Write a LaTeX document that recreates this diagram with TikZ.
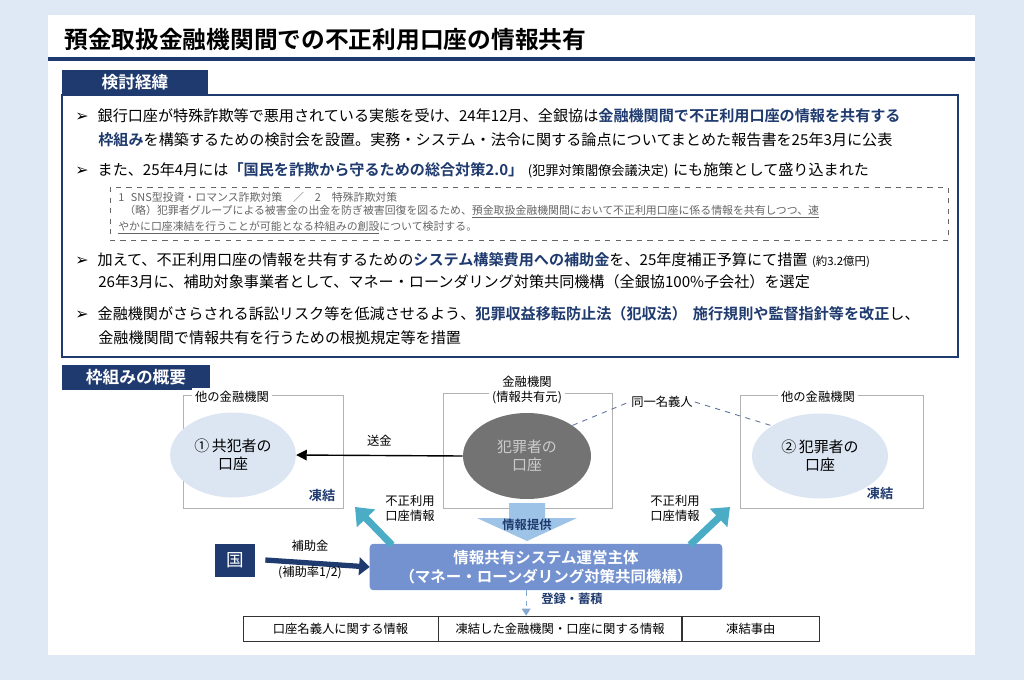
\documentclass[tikz,border=0pt]{standalone}
\usepackage{fontspec}
\setmainfont{Noto Sans CJK JP}[BoldFont={Noto Sans CJK JP Bold}]
\newfontfamily\symfont{DejaVu Sans}
\usetikzlibrary{arrows.meta,shapes.geometric}
\definecolor{navy}{HTML}{1F3A6E}
\definecolor{bgblue}{HTML}{DFE9F5}
\definecolor{acct}{HTML}{DCE6F2}
\definecolor{teal}{HTML}{4BACC6}
\definecolor{mainblue}{HTML}{7392CF}
\definecolor{downblue}{HTML}{9DC3E6}
\newcommand{\hl}[1]{\textcolor{navy}{\bfseries #1}}
\newcommand{\bul}{{\symfont\small ➢}}
\tikzset{
  tab/.style={fill=navy,text=white,font=\bfseries\fontsize{9.5pt}{11pt}\selectfont,inner sep=0pt},
  line/.style={anchor=west,inner sep=0pt,font=\fontsize{8.6pt}{10pt}\selectfont},
  note/.style={anchor=west,inner sep=0pt,text=black!60,font=\fontsize{6.2pt}{7pt}\selectfont},
  frame/.style={draw=black!30,line width=0.5pt},
  boxlabel/.style={fill=white,align=center,inner sep=2pt,font=\fontsize{7pt}{8.5pt}\selectfont},
  acc/.style={ellipse,fill=acct,align=center,font=\fontsize{8.5pt}{10pt}\selectfont},
  lbl/.style={align=center,font=\fontsize{7pt}{8.5pt}\selectfont,inner sep=1pt},
  frz/.style={text=navy,font=\bfseries\fontsize{7.5pt}{9pt}\selectfont,inner sep=0pt},
  cell/.style={draw=black!80,minimum height=0.5cm,inner sep=0pt,font=\fontsize{7pt}{8pt}\selectfont},
}
\begin{document}
\begin{tikzpicture}[x=0.02cm,y=-0.02cm]
  \fill[bgblue] (0,0) rectangle (1024,680);
  \fill[white] (48,15) rectangle (975,655);
  % title
  \node[anchor=west,inner sep=0pt,font=\bfseries\fontsize{13.5pt}{15pt}\selectfont] (title) at (64,40) {預金取扱金融機関間での不正利用口座の情報共有};
  \draw[navy,line width=2.2pt] (48,59) -- (975,59);
  % background section
  \node[tab,minimum width=2.92cm,minimum height=0.5cm] (tab1) at (135,82.5) {検討経緯};
  \draw[navy,line width=1pt] (62,95) rectangle (958,357);
  \node[line] (b1) at (75,116) {\bul\hspace{0.6em}銀行口座が特殊詐欺等で悪用されている実態を受け、24年12月、全銀協は\hl{金融機関間で不正利用口座の情報を共有する}};
  \node[line] (b1b) at (98,140) {\hl{枠組み}を構築するための検討会を設置。実務・システム・法令に関する論点についてまとめた報告書を25年3月に公表};
  \node[line] (b2) at (75,170) {\bul\hspace{0.6em}また、25年4月には\hl{「国民を詐欺から守るための総合対策2.0」}\hspace{0.3em}{\fontsize{7.5pt}{9pt}\selectfont(犯罪対策閣僚会議決定)}\hspace{0.3em}にも施策として盛り込まれた};
  \draw[black!60,dashed,line width=0.5pt] (110,187) rectangle (948,240);
  \node[note] (n1) at (118,197) {1\hspace{0.6em}SNS型投資・ロマンス詐欺対策\hspace{1em}／\hspace{1em}2\hspace{1em}特殊詐欺対策};
  \node[note] (n2) at (124,212) {（略）犯罪者グループによる被害金の出金を防ぎ被害回復を図るため、\underline{預金取扱金融機関間において不正利用口座に係る情報を共有しつつ、速}};
  \node[note] (n3) at (118,228) {\underline{やかに口座凍結を行うことが可能となる枠組みの創設}について検討する。};
  \node[line] (b3) at (75,260) {\bul\hspace{0.6em}加えて、不正利用口座の情報を共有するための\hl{システム構築費用への補助金}を、25年度補正予算にて措置\hspace{0.3em}{\fontsize{6.5pt}{8pt}\selectfont(約3.2億円)}};
  \node[line] (b3b) at (98,282) {26年3月に、補助対象事業者として、マネー・ローンダリング対策共同機構（全銀協100\%子会社）を選定};
  \node[line] (b4) at (75,314) {\bul\hspace{0.6em}金融機関がさらされる訴訟リスク等を低減させるよう、\hl{犯罪収益移転防止法（犯収法）\hspace{0.4em}施行規則や監督指針等を改正}し、};
  \node[line] (b4b) at (98,338) {金融機関間で情報共有を行うための根拠規定等を措置};
  % framework section
  \node[tab,minimum width=2.96cm,minimum height=0.5cm] (tab2) at (136,377.5) {枠組みの概要};
  \draw[frame] (183,395) rectangle (343,508);
  \draw[frame] (443,393) rectangle (612,508);
  \draw[frame] (740,395) rectangle (923,508);
  \node[boxlabel] (lhead) at (232,397) {他の金融機関};
  \node[boxlabel] (mhead) at (527,390) {金融機関\\(情報共有元)};
  \node[boxlabel] (rhead) at (818,397) {他の金融機関};
  \node[acc,minimum width=2.5cm,minimum height=1.7cm] (acc1) at (233,455) {①\,共犯者の\\口座};
  \node[ellipse,fill=black!55,text=black!20,align=center,minimum width=2.56cm,minimum height=1.72cm,font=\fontsize{8.5pt}{10pt}\selectfont] (crim) at (527,456) {犯罪者の\\口座};
  \node[acc,minimum width=2.72cm,minimum height=1.7cm] (acc2) at (820,456) {②\,犯罪者の\\口座};
  \node[frz] (frz1) at (322,495) {凍結};
  \node[frz] (frz2) at (880,493) {凍結};
  \draw[-{Triangle[length=6pt,width=6pt]},line width=0.8pt] (crim.west) -- (acc1.east) node[midway,above=4pt,lbl] {送金};
  \node[lbl] (same) at (662,402) {同一名義人};
  \draw[navy!70,dashed,line width=0.5pt] (crim.north east) -- (same.west);
  \draw[navy!70,dashed,line width=0.5pt] (same.east) -- (acc2.north west);
  % operator
  \node[draw=mainblue,fill=mainblue,rounded corners=2pt,text=white,align=center,minimum width=7.04cm,minimum height=0.84cm,font=\bfseries\fontsize{8.8pt}{11pt}\selectfont] (op) at (546,567) {情報共有システム運営主体\\（マネー・ローンダリング対策共同機構）};
  \fill[downblue] (509,503) -- (545,503) -- (545,518) -- (577,518) -- (527,541) -- (477,518) -- (509,518) -- cycle;
  \node[frz,font=\bfseries\fontsize{7pt}{8pt}\selectfont] (provl) at (527,525) {情報提供};
  \coordinate (tl) at (392,545);
  \coordinate (tr) at (690,545);
  \draw[teal,line width=4pt,-{Triangle[length=9pt,width=14pt]}] (tl) -- (355,507);
  \draw[teal,line width=4pt,-{Triangle[length=9pt,width=14pt]}] (tr) -- (730,507);
  \node[lbl] (infl) at (410,508) {不正利用\\口座情報};
  \node[lbl] (infr) at (675,508) {不正利用\\口座情報};
  \node[fill=navy,text=white,minimum width=0.8cm,minimum height=0.66cm,inner sep=0pt,font=\fontsize{10pt}{12pt}\selectfont] (koku) at (235,560) {国};
  \draw[navy,line width=3pt,-{Triangle[length=6pt,width=10pt]}] (koku.east) ++(10,0) -- (op.west);
  \node[lbl] (sub) at (310,546) {補助金};
  \node[lbl] (rate) at (310,573) {(補助率1/2)};
  % register
  \node[cell,minimum width=3.9cm] (c1) at (340.5,628.5) {口座名義人に関する情報};
  \node[cell,minimum width=4.86cm,anchor=west] (c2) at (c1.east) {凍結した金融機関・口座に関する情報};
  \node[cell,minimum width=2.74cm,anchor=west] (c3) at (c2.east) {凍結事由};
  \draw[downblue!80!navy,dashed,line width=0.6pt,-{Triangle[length=4pt,width=5pt]}] (op.south -| c2.north) ++(-34,0) coordinate (ds) -- (ds |- c2.north);
  \node[frz,font=\bfseries\fontsize{7pt}{8pt}\selectfont] (reg) at (572,599) {登録・蓄積};
\end{tikzpicture}
\end{document}
